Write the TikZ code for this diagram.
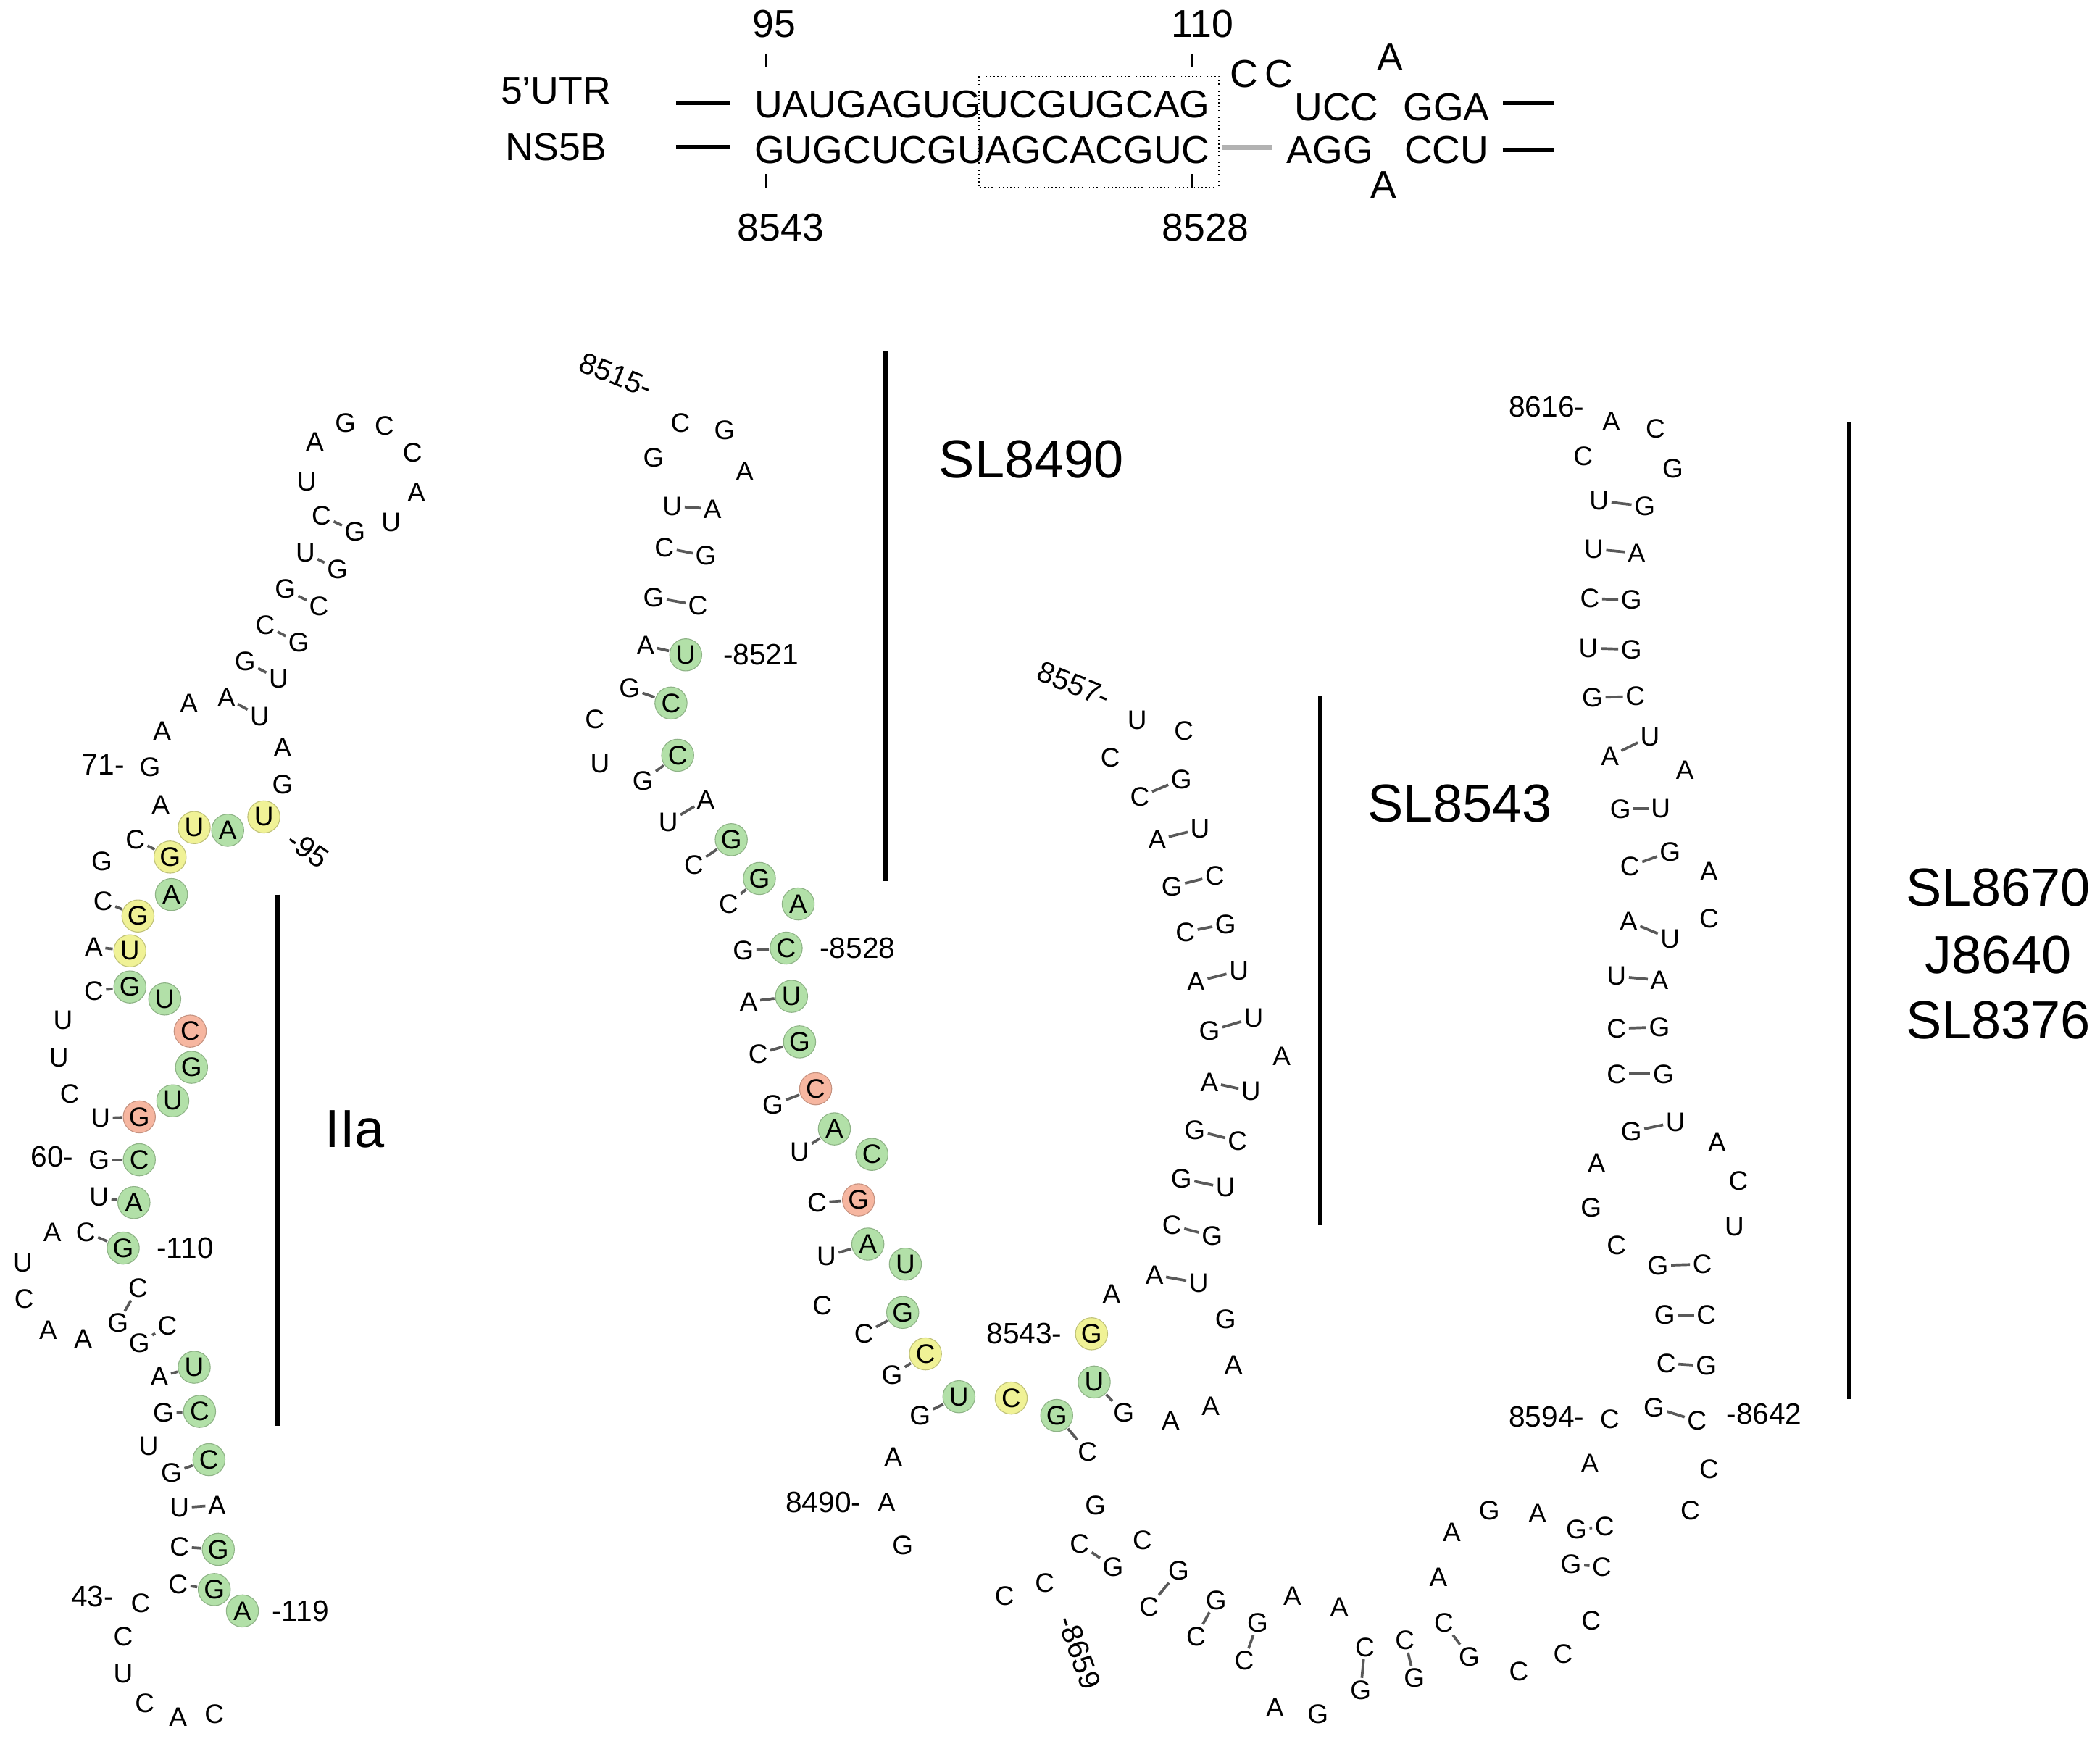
\documentclass[tikz,border=0pt]{standalone}
\usepackage{fontspec}
\setmainfont{Liberation Sans}
\definecolor{cg}{RGB}{178,224,168}
\definecolor{cy}{RGB}{240,242,150}
\definecolor{cr}{RGB}{246,182,160}
\tikzset{
 nt/.style={inner sep=0.5pt,font=\fontsize{10}{10}\selectfont},
 ntg/.style={nt,circle,fill=cg,draw=cg!80!black,line width=0.3pt,minimum size=12pt,inner sep=0pt},
 nty/.style={ntg,fill=cy,draw=cy!80!black},
 ntr/.style={ntg,fill=cr,draw=cr!80!black},
 bpl/.style={gray!70!black,line width=1pt,shorten <=0.3pt,shorten >=0.3pt},
 num/.style={font=\fontsize{11}{11}\selectfont},
 seq/.style={font=\fontsize{14.5}{14.5}\selectfont},
 big/.style={font=\fontsize{20}{20}\selectfont},
 bar/.style={line width=1.6pt}
}
\newcommand\nt[4]{\node[nt] (#1) at (#2,#3) {#4};}
\newcommand\ntg[4]{\node[ntg] (#1) at (#2,#3) {#4};}
\newcommand\nty[4]{\node[nty] (#1) at (#2,#3) {#4};}
\newcommand\ntr[4]{\node[ntr] (#1) at (#2,#3) {#4};}
\newcommand\bp[2]{\draw[bpl] (#1) -- (#2);}
\begin{document}
\begin{tikzpicture}[x=0.5pt,y=-0.5pt]
\useasboundingbox (0,0) rectangle (1568,1302);
% ---- top duplex
\node[seq] (utr) at (415,68) {5'UTR};
\node[seq] (ns) at (415,110) {NS5B};
\coordinate (l1a) at (505,77); \coordinate (l1b) at (545,77);
\coordinate (l2a) at (505,110); \coordinate (l2b) at (545,110);
\draw[bar] (l1a) -- (l1b); \draw[bar] (l2a) -- (l2b);
\node[seq,anchor=west,inner sep=0] (s1) at (563,78) {UAUGAGUGUCGUGCAG};
\node[seq,anchor=west,inner sep=0] (s2) at (563,112) {GUGCUCGUAGCACGUC};
\node[seq] (n95) at (578,18) {95};
\node[seq] (n110) at (898,18) {110};
\node[seq] (n8543) at (583,170) {8543};
\node[seq] (n8528) at (900,170) {8528};
\coordinate (t1a) at (572,40); \coordinate (t1b) at (572,50); \draw (t1a)--(t1b);
\coordinate (t2a) at (890,40); \coordinate (t2b) at (890,50); \draw (t2a)--(t2b);
\coordinate (t3a) at (572,130); \coordinate (t3b) at (572,140); \draw (t3a)--(t3b);
\coordinate (t4a) at (890,130); \coordinate (t4b) at (890,140); \draw (t4a)--(t4b);
\coordinate (bx1) at (731,57); \coordinate (bx2) at (910,140);
\draw[densely dotted] (bx1) rectangle (bx2);
\node[seq] (cc) at (942,55) {C\,C};
\node[seq] (a1) at (1038,43) {A};
\node[seq] (ucc) at (998,80) {UCC};
\node[seq] (gga) at (1080,80) {GGA};
\node[seq] (agg) at (993,112) {AGG};
\node[seq] (a2) at (1033,138) {A};
\node[seq] (ccu) at (1080,112) {CCU};
\coordinate (l3a) at (1122,77); \coordinate (l3b) at (1160,77);
\coordinate (l4a) at (1122,112); \coordinate (l4b) at (1160,112);
\draw[bar] (l3a) -- (l3b); \draw[bar] (l4a) -- (l4b);
\coordinate (g1) at (912,110); \coordinate (g2) at (950,110);
\draw[line width=2pt,gray!60] (g1) -- (g2);
% ---- IIa
\nt{a1}{235}{330}{A}\nt{a2}{258}{316}{G}\nt{a3}{287}{318}{C}\nt{a4}{308}{338}{C}\nt{a5}{311}{368}{A}\nt{a6}{292}{390}{U}
\nt{a7}{229}{360}{U}
\nt{a8}{240}{385}{C}\nt{a9}{265}{397}{G}\bp{a8}{a9}
\nt{a10}{228}{413}{U}\nt{a11}{252}{425}{G}\bp{a10}{a11}
\nt{a12}{213}{440}{G}\nt{a13}{238}{453}{C}\bp{a12}{a13}
\nt{a14}{198}{467}{C}\nt{a15}{223}{480}{G}\bp{a14}{a15}
\nt{a16}{183}{494}{G}\nt{a17}{208}{507}{U}\bp{a16}{a17}
\nt{a18}{169}{521}{A}\nt{a19}{194}{535}{U}\bp{a18}{a19}
\nt{a20}{211}{558}{A}\nt{a21}{211}{586}{G}
\nt{a22}{141}{525}{A}\nt{a23}{121}{546}{A}
\nt{a24}{112}{573}{G}\node[num,anchor=east] (l71) at (100,571) {71-};
\nt{a25}{120}{601}{A}
\nty{a26}{145}{618}{U}\ntg{a27}{170}{620}{A}\nty{a28}{197}{610}{U}
\node[num,rotate=-35] (l95) at (230,634) {-95};
\nt{a29}{76}{643}{G}
\nt{a30}{101}{627}{C}\nty{a31}{127}{640}{G}\bp{a30}{a31}
\ntg{a32}{128}{668}{A}
\nt{a33}{77}{673}{C}\nty{a34}{103}{684}{G}\bp{a33}{a34}
\nt{a35}{70}{707}{A}\nty{a36}{97}{710}{U}\bp{a35}{a36}
\nt{a37}{70}{740}{C}\ntg{a38}{97}{737}{G}\bp{a37}{a38}
\ntg{a39}{123}{746}{U}\ntr{a40}{142}{770}{C}
\nt{a41}{47}{762}{U}\nt{a42}{44}{790}{U}
\ntg{a43}{143}{797}{G}\nt{a44}{52}{817}{C}\ntg{a45}{129}{822}{U}
\nt{a46}{75}{835}{U}\ntr{a47}{104}{834}{G}\bp{a46}{a47}
\nt{a48}{74}{866}{G}\ntg{a49}{104}{866}{C}\bp{a48}{a49}\node[num,anchor=east] (l60) at (62,864) {60-};
\nt{a50}{74}{894}{U}\ntg{a51}{100}{898}{A}\bp{a50}{a51}
\nt{a52}{39}{920}{A}
\nt{a53}{64}{920}{C}\ntg{a54}{92}{932}{G}\bp{a53}{a54}
\node[num,anchor=west] (l110) at (110,932) {-110};
\nt{a55}{17}{943}{U}\nt{a56}{18}{970}{C}\nt{a57}{36}{993}{A}\nt{a58}{62}{1000}{A}
\nt{a59}{88}{988}{G}\nt{a60}{103}{962}{C}\bp{a59}{a60}
\nt{a61}{104}{1003}{G}\nt{a62}{125}{990}{C}\bp{a61}{a62}
\nt{a63}{119}{1028}{A}\ntg{a64}{145}{1021}{U}\bp{a63}{a64}
\nt{a65}{122}{1055}{G}\ntg{a66}{149}{1054}{C}\bp{a65}{a66}
\nt{a67}{111}{1080}{U}
\nt{a68}{128}{1100}{G}\ntg{a69}{156}{1090}{C}\bp{a68}{a69}
\nt{a70}{134}{1126}{U}\nt{a71}{162}{1124}{A}\bp{a70}{a71}
\nt{a72}{134}{1155}{C}\ntg{a73}{163}{1157}{G}\bp{a72}{a73}
\nt{a74}{133}{1183}{C}\ntg{a75}{160}{1187}{G}\bp{a74}{a75}
\ntg{a76}{181}{1203}{A}\node[num,anchor=west] (l119) at (196,1203) {-119};
\node[num,anchor=east] (l43) at (92,1192) {43-};\nt{a77}{105}{1197}{C}
\nt{a78}{92}{1222}{C}\nt{a79}{92}{1250}{U}\nt{a80}{108}{1272}{C}\nt{a81}{133}{1282}{A}\nt{a82}{160}{1280}{C}
\coordinate (v1a) at (207,668); \coordinate (v1b) at (207,1065); \draw[bar] (v1a)--(v1b);
\node[big] (IIa) at (265,843) {IIa};
% ---- SL8490
\node[num,rotate=-22] (l8515) at (460,280) {8515-};
\nt{b1}{508}{316}{C}\nt{b2}{541}{321}{G}\nt{b3}{556}{352}{A}\nt{b4}{488}{342}{G}
\nt{b5}{502}{378}{U}\nt{b6}{532}{380}{A}\bp{b5}{b6}
\nt{b7}{496}{409}{C}\nt{b8}{527}{415}{G}\bp{b7}{b8}
\nt{b9}{488}{446}{G}\nt{b10}{521}{452}{C}\bp{b9}{b10}
\nt{b11}{482}{482}{A}\ntg{b12}{512}{489}{U}\bp{b11}{b12}
\node[num,anchor=west] (l8521) at (533,489) {-8521};
\nt{b13}{470}{514}{G}\ntg{b14}{501}{525}{C}\bp{b13}{b14}
\nt{b15}{444}{537}{C}\nt{b16}{448}{570}{U}
\nt{b17}{480}{583}{G}\ntg{b18}{506}{564}{C}\bp{b17}{b18}
\nt{b19}{499}{614}{U}\nt{b20}{527}{597}{A}\bp{b19}{b20}
\nt{b21}{518}{646}{C}\ntg{b22}{546}{627}{G}\bp{b21}{b22}
\nt{b23}{544}{675}{C}\ntg{b24}{567}{656}{G}\bp{b23}{b24}
\ntg{b25}{596}{675}{A}
\nt{b26}{555}{710}{G}\ntg{b27}{587}{708}{C}\bp{b26}{b27}
\node[num,anchor=west] (l8528) at (605,708) {-8528};
\nt{b28}{559}{748}{A}\ntg{b29}{591}{744}{U}\bp{b28}{b29}
\nt{b30}{566}{787}{C}\ntg{b31}{597}{778}{G}\bp{b30}{b31}
\nt{b32}{577}{825}{G}\ntr{b33}{609}{813}{C}\bp{b32}{b33}
\nt{b34}{597}{860}{U}\ntg{b35}{623}{843}{A}\bp{b34}{b35}
\ntg{b36}{651}{862}{C}
\nt{b37}{610}{898}{C}\ntr{b38}{641}{896}{G}\bp{b37}{b38}
\nt{b39}{617}{938}{U}\ntg{b40}{648}{929}{A}\bp{b39}{b40}
\ntg{b41}{676}{944}{U}\nt{b42}{614}{975}{C}
\nt{b43}{645}{996}{C}\ntg{b44}{674}{980}{G}\bp{b43}{b44}
\nt{b45}{666}{1027}{G}\nty{b46}{691}{1011}{C}\bp{b45}{b46}
\nt{b47}{687}{1057}{G}\ntg{b48}{716}{1043}{U}\bp{b47}{b48}
\nty{b49}{755}{1044}{C}\ntg{b50}{789}{1057}{G}
\ntg{b51}{817}{1032}{U}
\nty{b52}{815}{996}{G}\node[num,anchor=east] (l8543b) at (800,996) {8543-};
\nt{b53}{839}{1055}{G}\bp{b51}{b53}
\nt{b54}{812}{1084}{C}\bp{b50}{b54}
\nt{b55}{667}{1088}{A}
\nt{b56}{662}{1122}{A}\node[num,anchor=east] (l8490) at (650,1122) {8490-};
\nt{b57}{674}{1154}{G}
\coordinate (v2a) at (661,262); \coordinate (v2b) at (661,658); \draw[bar] (v2a)--(v2b);
\node[big] (SL8490) at (770,343) {SL8490};
% ---- SL8543
\node[num,rotate=-22] (l8557) at (802,511) {8557-};
\nt{c1}{849}{538}{U}\nt{c2}{884}{546}{C}\nt{c3}{829}{566}{C}
\nt{c4}{851}{595}{C}\nt{c5}{882}{582}{G}\bp{c4}{c5}
\nt{c6}{864}{627}{A}\nt{c7}{896}{619}{U}\bp{c6}{c7}
\nt{c8}{875}{662}{G}\nt{c9}{907}{654}{C}\bp{c8}{c9}
\nt{c10}{885}{696}{C}\nt{c11}{915}{690}{G}\bp{c10}{c11}
\nt{c12}{893}{733}{A}\nt{c13}{925}{725}{U}\bp{c12}{c13}
\nt{c14}{903}{770}{G}\nt{c15}{936}{760}{U}\bp{c14}{c15}
\nt{c16}{957}{789}{A}
\nt{c17}{903}{808}{A}\nt{c18}{934}{815}{U}\bp{c17}{c18}
\nt{c19}{892}{844}{G}\nt{c20}{924}{852}{C}\bp{c19}{c20}
\nt{c21}{882}{880}{G}\nt{c22}{915}{887}{U}\bp{c21}{c22}
\nt{c23}{875}{915}{C}\nt{c24}{905}{923}{G}\bp{c23}{c24}
\nt{c25}{862}{952}{A}\nt{c26}{895}{958}{U}\bp{c25}{c26}
\nt{c27}{830}{966}{A}\nt{c28}{915}{985}{G}\nt{c29}{921}{1019}{A}\nt{c30}{904}{1050}{A}\nt{c31}{874}{1061}{A}
\coordinate (v3a) at (986,520); \coordinate (v3b) at (986,915); \draw[bar] (v3a)--(v3b);
\node[big] (SL8543) at (1090,600) {SL8543};
% ---- SL8670
\node[num,anchor=east] (l8616) at (1190,304) {8616-};
\nt{d1}{1203}{315}{A}\nt{d2}{1236}{320}{C}\nt{d3}{1249}{350}{G}\nt{d4}{1182}{341}{C}
\nt{d5}{1194}{374}{U}\nt{d6}{1228}{378}{G}\bp{d5}{d6}
\nt{d7}{1190}{410}{U}\nt{d8}{1222}{413}{A}\bp{d7}{d8}
\nt{d9}{1187}{447}{C}\nt{d10}{1218}{448}{G}\bp{d9}{d10}
\nt{d11}{1186}{484}{U}\nt{d12}{1218}{485}{G}\bp{d11}{d12}
\nt{d13}{1189}{521}{G}\nt{d14}{1221}{520}{C}\bp{d13}{d14}
\nt{d15}{1202}{565}{A}\nt{d16}{1232}{550}{U}\bp{d15}{d16}
\nt{d17}{1258}{575}{A}
\nt{d18}{1210}{604}{G}\nt{d19}{1240}{604}{U}\bp{d18}{d19}
\nt{d20}{1217}{647}{C}\nt{d21}{1247}{636}{G}\bp{d20}{d21}
\nt{d22}{1276}{651}{A}\nt{d23}{1276}{686}{C}
\nt{d24}{1216}{688}{A}\nt{d25}{1247}{701}{U}\bp{d24}{d25}
\nt{d26}{1207}{729}{U}\nt{d27}{1239}{732}{A}\bp{d26}{d27}
\nt{d28}{1207}{768}{C}\nt{d29}{1239}{767}{G}\bp{d28}{d29}
\nt{d30}{1207}{802}{C}\nt{d31}{1242}{802}{G}\bp{d30}{d31}
\nt{d32}{1218}{845}{G}\nt{d33}{1251}{838}{U}\bp{d32}{d33}
\nt{d34}{1282}{853}{A}\nt{d35}{1298}{882}{C}\nt{d36}{1295}{916}{U}
\nt{d37}{1192}{869}{A}\nt{d38}{1188}{902}{G}\nt{d39}{1207}{930}{C}
\nt{d40}{1238}{945}{G}\nt{d41}{1271}{944}{C}\bp{d40}{d41}
\nt{d42}{1243}{982}{G}\nt{d43}{1274}{982}{C}\bp{d42}{d43}
\nt{d44}{1244}{1018}{C}\nt{d45}{1274}{1020}{G}\bp{d44}{d45}
\nt{d46}{1235}{1051}{G}\nt{d47}{1267}{1061}{C}\bp{d46}{d47}
\node[num,anchor=west] (l8642) at (1282,1056) {-8642};
\nt{d48}{1202}{1060}{C}\node[num,anchor=east] (l8594) at (1190,1058) {8594-};
\nt{d49}{1187}{1093}{A}\nt{d50}{1276}{1097}{C}\nt{d51}{1262}{1128}{C}
\nt{d52}{1177}{1142}{G}\nt{d53}{1198}{1140}{C}\bp{d52}{d53}
\nt{d54}{1148}{1130}{A}\nt{d55}{1112}{1128}{G}\nt{d56}{1084}{1144}{A}
\nt{d57}{1173}{1168}{G}\nt{d58}{1196}{1170}{C}\bp{d57}{d58}
\coordinate (v4a) at (1381,315); \coordinate (v4b) at (1381,1045); \draw[bar] (v4a)--(v4b);
\node[big] (la) at (1492,663) {SL8670};
\node[big] (lb) at (1492,713) {J8640};
\node[big] (lc) at (1492,762) {SL8376};
% ---- bottom loop
\nt{e1}{818}{1124}{G}
\nt{e2}{806}{1153}{C}\nt{e3}{831}{1170}{G}\bp{e2}{e3}
\nt{e4}{853}{1150}{C}
\nt{e5}{858}{1200}{C}\nt{e6}{880}{1173}{G}\bp{e5}{e6}
\nt{e7}{893}{1222}{C}\nt{e8}{908}{1195}{G}\bp{e7}{e8}
\nt{e9}{929}{1240}{C}\nt{e10}{939}{1212}{G}\bp{e9}{e10}
\nt{e11}{965}{1192}{A}\nt{e12}{1000}{1200}{A}
\nt{e13}{1019}{1230}{C}\nt{e14}{1016}{1262}{G}\bp{e13}{e14}
\nt{e15}{952}{1275}{A}\nt{e16}{984}{1280}{G}
\nt{e17}{1049}{1225}{C}\nt{e18}{1056}{1253}{G}\bp{e17}{e18}
\nt{e19}{1074}{1178}{A}
\nt{e20}{1078}{1212}{C}\nt{e21}{1097}{1237}{G}\bp{e20}{e21}
\nt{e22}{1134}{1248}{C}\nt{e23}{1167}{1235}{C}\nt{e24}{1188}{1210}{C}
\nt{e25}{750}{1192}{C}\nt{e26}{780}{1182}{C}
\node[num,rotate=-70] (l8659) at (806,1234) {-8659};
\end{tikzpicture}
\end{document}
